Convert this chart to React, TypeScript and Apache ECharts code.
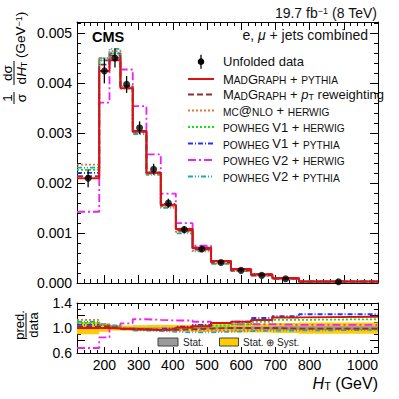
import React, { useEffect, useRef } from 'react';
import * as echarts from 'echarts';

// ---------- data ----------
const binEdges = [120, 185, 215, 247, 283, 323, 365, 409, 458, 512, 570, 629, 691, 769, 1000];
const dataValues = [0.0021, 0.00425, 0.00451, 0.00398, 0.00311, 0.00228, 0.0016, 0.00107, 0.00068, 0.00041, 0.000253, 0.000153, 0.000086, 0.000026];
const dataErrors = [0.00018, 0.00025, 0.00019, 0.00017, 0.00013, 0.00011, 0.00009, 0.00007, 0.00005, 0.00003, 0.00002, 0.000015, 0.00001, 0.000005];

// prediction / data ratios per model
const ratioMadgraphPythia = [1.0, 1.0, 0.99, 0.98, 0.975, 0.97, 0.98, 1.01, 1.03, 1.08, 1.1, 1.13, 1.17, 1.18];
const ratioMadgraphPtRew = [1.02, 1.03, 1.01, 0.99, 0.98, 0.97, 0.97, 0.98, 0.99, 1.0, 1.0, 1.0, 0.99, 0.99];
const ratioMcatnloHerwig = [1.13, 1.06, 1.03, 0.99, 0.97, 0.96, 0.96, 0.96, 0.96, 0.96, 0.97, 0.98, 0.98, 0.98];
const ratioPowhegV1Herwig = [1.08, 1.05, 1.02, 0.99, 0.98, 0.97, 0.98, 1.0, 1.02, 1.04, 1.06, 1.1, 1.13, 1.14];
const ratioPowhegV1Pythia = [1.05, 1.05, 1.02, 0.99, 0.98, 0.97, 0.99, 1.02, 1.05, 1.08, 1.1, 1.16, 1.19, 1.22];
const ratioPowhegV2Herwig = [0.68, 0.85, 1.0, 1.075, 1.14, 1.13, 1.12, 1.12, 1.1, 1.08, 1.06, 1.06, 1.05, 1.05];
const ratioPowhegV2Pythia = [1.1, 1.06, 1.04, 0.98, 0.96, 0.95, 0.94, 0.93, 0.93, 0.94, 0.95, 0.96, 0.96, 0.97];

const statHalfWidth = [0.02, 0.01, 0.01, 0.01, 0.01, 0.01, 0.01, 0.012, 0.015, 0.02, 0.02, 0.025, 0.03, 0.03];
const totalHalfWidth = [0.1, 0.06, 0.04, 0.04, 0.045, 0.05, 0.05, 0.05, 0.06, 0.06, 0.07, 0.07, 0.08, 0.09];

const xMajorTicks = [200, 300, 400, 500, 600, 700, 800, 900, 1000];
const xLastLabel = '1000';
const ratioLabels = [0.6, 1.0, 1.4];

const legendLabels = [
  'Unfolded data',
  '{b|M}{s|AD}{b|G}{s|RAPH}{b| + }{s|PYTHIA}',
  '{b|M}{s|AD}{b|G}{s|RAPH}{b| + }{i|p}{sub|T}{b| reweighting}',
  '{s|MC}{b|@}{s|NLO}{b| + }{s|HERWIG}',
  '{s|POWHEG }{b|V1}{b| + }{s|HERWIG}',
  '{s|POWHEG }{b|V1}{b| + }{s|PYTHIA}',
  '{s|POWHEG }{b|V2}{b| + }{s|HERWIG}',
  '{s|POWHEG }{b|V2}{b| + }{s|PYTHIA}',
];

// ---------- styles ----------
const FONT = '"Liberation Sans", Arial, Helvetica, sans-serif';
const BLACK = '#000';

type ModelStyle = { ratio: number[]; color: string; width: number; dash: number[] | 'solid'; legendIdx: number; z: number };
const models: ModelStyle[] = [
  { ratio: ratioPowhegV2Pythia, color: '#1fa9a9', width: 1.8, dash: [5, 2, 1, 2, 1, 2], legendIdx: 7, z: 2 },
  { ratio: ratioPowhegV2Herwig, color: '#ee22ee', width: 1.8, dash: [8, 3, 2, 3], legendIdx: 6, z: 3 },
  { ratio: ratioPowhegV1Pythia, color: '#2233ff', width: 1.8, dash: [5, 2, 1, 2], legendIdx: 5, z: 4 },
  { ratio: ratioPowhegV1Herwig, color: '#11e011', width: 1.8, dash: [2, 2], legendIdx: 4, z: 5 },
  { ratio: ratioMcatnloHerwig, color: '#e8743b', width: 1.8, dash: [2, 2], legendIdx: 3, z: 6 },
  { ratio: ratioMadgraphPtRew, color: '#8b3333', width: 1.8, dash: [6, 3], legendIdx: 2, z: 7 },
  { ratio: ratioMadgraphPythia, color: '#e01010', width: 2, dash: 'solid', legendIdx: 1, z: 8 },
];

const stepData = (vals: number[]) => binEdges.map((e, i) => [e, vals[Math.min(i, vals.length - 1)]]);
const centers = binEdges.slice(0, -1).map((e, i) => (e + binEdges[i + 1]) / 2);

const richBase = {
  b: { fontSize: 13, lineHeight: 13, verticalAlign: 'bottom', fontFamily: FONT, fill: '#111' },
  s: { fontSize: 10.2, lineHeight: 11.5, verticalAlign: 'bottom', fontFamily: FONT, fill: '#111' },
  i: { fontSize: 13, lineHeight: 13, verticalAlign: 'bottom', fontStyle: 'italic', fontFamily: FONT, fill: '#111' },
  sub: { fontSize: 9, lineHeight: 5, verticalAlign: 'bottom', fontFamily: FONT, fill: '#111' },
};

function xAxisDef(grid: number, pos: 'top' | 'bottom', major: boolean, withLabels: boolean) {
  const base: any = {
    type: 'value', gridIndex: grid, min: 120, max: 1000, position: pos, offset: 0,
    axisLine: { show: !major, onZero: false, lineStyle: { color: BLACK, width: 1 } },
    splitLine: { show: false },
  };
  if (major) {
    return {
      ...base,
      axisTick: { show: true, inside: true, length: grid === 0 ? 8 : 6, customValues: xMajorTicks, lineStyle: { color: BLACK } },
      axisLabel: withLabels
        ? {
            show: true, customValues: xMajorTicks.slice(0, -1), fontSize: 14, color: BLACK, margin: 5, fontFamily: FONT,
            showMaxLabel: false, showMinLabel: true, hideOverlap: false,
            formatter: (v: number) => (Math.round(v) >= 1000 ? '' : String(Math.round(v))),
          }
        : { show: false },
    };
  }
  return {
    ...base, interval: 20,
    axisTick: { show: true, inside: true, length: grid === 0 ? 4 : 3, lineStyle: { color: BLACK } },
    axisLabel: { show: false },
  };
}

function yAxisDef(grid: number, pos: 'left' | 'right', major: boolean, withLabels: boolean) {
  const isMain = grid === 0;
  const base: any = {
    type: 'value', gridIndex: grid, position: pos, offset: 0,
    min: isMain ? 0 : 0.6, max: isMain ? 0.00523 : 1.4,
    axisLine: { show: !major, onZero: false, lineStyle: { color: BLACK, width: 1 } },
    splitLine: { show: false },
  };
  if (major) {
    return {
      ...base,
      interval: isMain ? 0.001 : 0.2,
      axisTick: { show: true, inside: true, length: 8, lineStyle: { color: BLACK } },
      axisLabel: withLabels
        ? {
            show: true, fontSize: 14, color: BLACK, margin: 5, fontFamily: FONT, showMaxLabel: isMain ? false : true,
            formatter: (v: number) => {
              if (isMain) return v > 0.00501 ? '' : v.toFixed(3);
              const r = Math.round(v * 10) / 10;
              return ratioLabels.some((l) => Math.abs(l - r) < 1e-6) ? r.toFixed(1) : '';
            },
          }
        : { show: false },
    };
  }
  return {
    ...base,
    interval: isMain ? 0.0002 : 0.1,
    axisTick: { show: true, inside: true, length: 4, lineStyle: { color: BLACK } },
    axisLabel: { show: false },
  };
}

function buildOption(): any {
  const series: any[] = [];
  models.forEach((m) => {
    series.push({
      type: 'line', xAxisIndex: 0, yAxisIndex: 0, step: 'end', symbol: 'none', showSymbol: false,
      data: stepData(dataValues.map((d, i) => d * m.ratio[i])),
      lineStyle: { color: m.color, width: m.width, type: m.dash },
      z: m.z, silent: true,
    });
  });
  series.push({
    type: 'custom', xAxisIndex: 0, yAxisIndex: 0, z: 20, silent: true,
    data: centers.map((c, i) => [c, dataValues[i] - dataErrors[i], dataValues[i] + dataErrors[i]]),
    encode: { x: 0, y: [1, 2] },
    renderItem: (_p: any, api: any) => {
      const a = api.coord([api.value(0), api.value(1)]);
      const b = api.coord([api.value(0), api.value(2)]);
      return { type: 'line', shape: { x1: a[0], y1: a[1], x2: b[0], y2: b[1] }, style: { stroke: BLACK, lineWidth: 1.3 } };
    },
  });
  series.push({
    type: 'scatter', xAxisIndex: 0, yAxisIndex: 0, z: 21, silent: true,
    symbol: 'circle', symbolSize: 7, itemStyle: { color: BLACK },
    data: centers.map((c, i) => [c, dataValues[i]]),
  });
  const band = (half: number[], color: string, z: number) => ({
    type: 'custom', xAxisIndex: 4, yAxisIndex: 2, z, silent: true,
    data: half.map((h, i) => [binEdges[i], binEdges[i + 1], 1 - h, 1 + h]),
    encode: { x: [0, 1], y: [2, 3] },
    renderItem: (_p: any, api: any) => {
      const p1 = api.coord([api.value(0), api.value(3)]);
      const p2 = api.coord([api.value(1), api.value(2)]);
      return { type: 'rect', shape: { x: p1[0], y: p1[1], width: p2[0] - p1[0], height: p2[1] - p1[1] }, style: { fill: color } };
    },
  });
  series.push(band(totalHalfWidth, '#ffcc00', 1));
  series.push(band(statHalfWidth, '#9a9a9a', 2));
  models.forEach((m) => {
    series.push({
      type: 'line', xAxisIndex: 4, yAxisIndex: 2, step: 'end', symbol: 'none', showSymbol: false,
      data: stepData(m.ratio),
      lineStyle: { color: m.color, width: m.width, type: m.dash },
      z: m.z + 2, silent: true,
    });
  });

  const graphic: any[] = [];
  // last x tick label, right-aligned to the frame edge (as in the original)
  graphic.push({ type: 'text', x: 378, y: 358, style: { text: xLastLabel, fontSize: 14, fontFamily: FONT, fill: BLACK, align: 'right', verticalAlign: 'top' } });
  graphic.push({ type: 'text', x: 92, y: 37, style: { text: 'CMS', fontSize: 14.5, fontWeight: 'bold', fontFamily: FONT, fill: BLACK, verticalAlign: 'middle' } });
  graphic.push({
    type: 'text', x: 377, y: 13,
    style: {
      text: '{n|19.7 fb}{sup|−1}{n| (8 TeV)}', align: 'right', verticalAlign: 'middle',
      rich: {
        n: { fontSize: 14, lineHeight: 14, verticalAlign: 'bottom', fontFamily: FONT, fill: '#111' },
        sup: { fontSize: 9, lineHeight: 9, verticalAlign: 'top', fontFamily: FONT, fill: '#111' },
      },
    },
  });
  graphic.push({
    type: 'text', x: 368, y: 35,
    style: {
      text: '{n|e, }{i|μ}{n| + jets combined}', align: 'right', verticalAlign: 'middle',
      rich: {
        n: { fontSize: 14, lineHeight: 14, verticalAlign: 'bottom', fontFamily: FONT, fill: '#111' },
        i: { fontSize: 14, lineHeight: 14, verticalAlign: 'bottom', fontStyle: 'italic', fontFamily: FONT, fill: '#111' },
      },
    },
  });
  const rows = [61.7, 79, 94.5, 110.5, 127, 143.5, 160, 176.5];
  graphic.push({ type: 'line', shape: { x1: 201, y1: rows[0] - 7, x2: 201, y2: rows[0] + 7 }, style: { stroke: BLACK, lineWidth: 1.3 } });
  graphic.push({ type: 'circle', shape: { cx: 201, cy: rows[0], r: 3.3 }, style: { fill: BLACK } });
  models.forEach((m) => {
    const y = rows[m.legendIdx];
    graphic.push({
      type: 'line', shape: { x1: 188, y1: y, x2: 214, y2: y },
      style: { stroke: m.color, lineWidth: m.width, lineDash: m.dash === 'solid' ? null : m.dash },
    });
  });
  legendLabels.forEach((t, i) => {
    graphic.push({
      type: 'text', x: 223, y: rows[i],
      style: i === 0
        ? { text: t, fontSize: 13, fontFamily: FONT, fill: '#111', verticalAlign: 'middle' }
        : { text: t, rich: richBase, verticalAlign: 'middle' },
    });
  });
  graphic.push({ type: 'rect', shape: { x: 158, y: 338, width: 20, height: 8 }, style: { fill: '#9a9a9a', stroke: '#444', lineWidth: 1 } });
  graphic.push({ type: 'text', x: 183, y: 342, style: { text: 'Stat.', fontSize: 10, fontFamily: FONT, fill: '#222', verticalAlign: 'middle' } });
  graphic.push({ type: 'rect', shape: { x: 219.5, y: 338, width: 19, height: 8 }, style: { fill: '#ffcc00', stroke: '#444', lineWidth: 1 } });
  graphic.push({ type: 'text', x: 243, y: 342, style: { text: 'Stat. ⊕ Syst.', fontSize: 10, fontFamily: FONT, fill: '#222', verticalAlign: 'middle' } });

  const tRich = {
    n: { fontSize: 13.5, lineHeight: 13.5, verticalAlign: 'bottom', fontFamily: FONT, fill: BLACK },
    i: { fontSize: 13.5, lineHeight: 13.5, verticalAlign: 'bottom', fontStyle: 'italic', fontFamily: FONT, fill: BLACK },
    sub: { fontSize: 9, lineHeight: 5, verticalAlign: 'bottom', fontFamily: FONT, fill: BLACK },
    sup: { fontSize: 9, lineHeight: 9, verticalAlign: 'top', fontFamily: FONT, fill: BLACK },
  };
  graphic.push({
    type: 'group', x: 14, y: 111, rotation: Math.PI / 2,
    children: [
      { type: 'text', x: 13, y: 0, style: { text: '1', fontSize: 13.5, fontFamily: FONT, fill: BLACK, align: 'center', verticalAlign: 'bottom' } },
      { type: 'line', shape: { x1: 7, y1: 0, x2: 19, y2: 0 }, style: { stroke: BLACK, lineWidth: 1 } },
      { type: 'text', x: 13, y: 0.5, style: { text: 'σ', fontSize: 13.5, fontFamily: FONT, fill: BLACK, align: 'center', verticalAlign: 'top' } },
      { type: 'text', x: 38, y: 0, style: { text: 'dσ', fontSize: 13.5, fontFamily: FONT, fill: BLACK, align: 'center', verticalAlign: 'bottom' } },
      { type: 'line', shape: { x1: 26, y1: 0, x2: 50, y2: 0 }, style: { stroke: BLACK, lineWidth: 1 } },
      { type: 'text', x: 38, y: 0.5, style: { text: '{n|d}{i|H}{sub|T}', rich: tRich, align: 'center', verticalAlign: 'top' } },
      { type: 'text', x: 53, y: 7, style: { text: '{n|(GeV}{sup|−1}{n|)}', rich: tRich, align: 'left', verticalAlign: 'middle' } },
    ],
  });
  graphic.push({
    type: 'group', x: 26, y: 337, rotation: Math.PI / 2,
    children: [
      { type: 'text', x: 12, y: -0.5, style: { text: 'pred.', fontSize: 13, fontFamily: FONT, fill: BLACK, align: 'center', verticalAlign: 'bottom' } },
      { type: 'line', shape: { x1: 0, y1: 0, x2: 24, y2: 0 }, style: { stroke: BLACK, lineWidth: 1 } },
      { type: 'text', x: 12, y: 1, style: { text: 'data', fontSize: 13, fontFamily: FONT, fill: BLACK, align: 'center', verticalAlign: 'top' } },
    ],
  });
  graphic.push({
    type: 'text', x: 378, y: 383,
    style: {
      text: '{i|H}{sub|T}{n| (GeV)}', align: 'right', verticalAlign: 'middle',
      rich: {
        n: { fontSize: 16, lineHeight: 16, verticalAlign: 'bottom', fontFamily: FONT, fill: BLACK },
        i: { fontSize: 16, lineHeight: 16, verticalAlign: 'bottom', fontStyle: 'italic', fontFamily: FONT, fill: BLACK },
        sub: { fontSize: 11, lineHeight: 7, verticalAlign: 'bottom', fontFamily: FONT, fill: BLACK },
      },
    },
  });

  return {
    animation: false,
    backgroundColor: '#fff',
    textStyle: { fontFamily: FONT },
    grid: [
      { left: 77, top: 22, width: 301, height: 261, containLabel: false, outerBoundsMode: 'none' },
      { left: 77, top: 303, width: 301, height: 50, containLabel: false, outerBoundsMode: 'none' },
    ],
    xAxis: [
      xAxisDef(0, 'bottom', false, false),
      xAxisDef(0, 'bottom', true, false),
      xAxisDef(0, 'top', false, false),
      xAxisDef(0, 'top', true, false),
      xAxisDef(1, 'bottom', false, false),
      xAxisDef(1, 'bottom', true, true),
      xAxisDef(1, 'top', false, false),
      xAxisDef(1, 'top', true, false),
    ],
    yAxis: [
      yAxisDef(0, 'left', true, true),
      yAxisDef(0, 'right', true, false),
      yAxisDef(1, 'left', true, true),
      yAxisDef(1, 'right', true, false),
      yAxisDef(0, 'left', false, false),
      yAxisDef(0, 'right', false, false),
      yAxisDef(1, 'left', false, false),
      yAxisDef(1, 'right', false, false),
    ],
    series,
    graphic,
  };
}

export default function App() {
  const ref = useRef<HTMLDivElement>(null);
  useEffect(() => {
    if (!ref.current) return;
    const chart = echarts.init(ref.current, undefined, { renderer: 'svg' });
    chart.setOption(buildOption());
    return () => chart.dispose();
  }, []);
  return <div ref={ref} style={{ position: 'fixed', left: 0, top: 0, width: 399, height: 399, background: '#fff' }} />;
}
